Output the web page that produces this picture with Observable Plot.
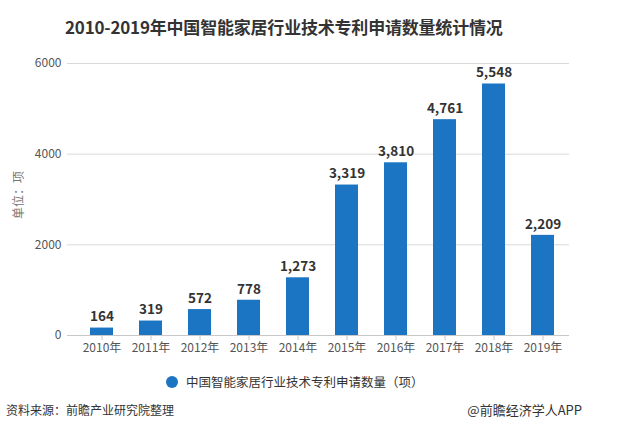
<!DOCTYPE html>
<html>
<head>
<meta charset="utf-8">
<script src="https://cdn.jsdelivr.net/npm/d3@7"></script>
<script src="https://cdn.jsdelivr.net/npm/@observablehq/plot@0.6"></script>
<style>
  html, body { margin: 0; padding: 0; background: #fff; }
  body { width: 631px; height: 428px; overflow: hidden; font-family: "Noto Sans CJK SC", "Noto Sans", sans-serif; }
  #wrap { position: relative; width: 631px; height: 428px; }
  #title { position: absolute; left: 65px; top: 14px; font-size: 17px; font-weight: bold; color: #333; letter-spacing: -0.2px; }
  #chart { position: absolute; left: 0; top: 40px; }
  #ylab { position: absolute; left: 17px; top: 195px; transform: translate(-50%, -50%) rotate(-90deg); font-size: 12px; color: #777; white-space: nowrap; }
  #legend { position: absolute; left: 166px; top: 372px; font-size: 12.5px; color: #333; display: flex; align-items: center; }
  #legend .dot { width: 12px; height: 12px; border-radius: 50%; background: #1b75c2; margin-right: 8px; }
  #src { position: absolute; left: 6px; top: 401px; font-size: 12px; color: #333; }
  #brand { position: absolute; right: 49px; top: 400px; font-size: 13px; color: #333; }
</style>
</head>
<body>
<div id="wrap">
  <div id="title">2010-2019年中国智能家居行业技术专利申请数量统计情况</div>
  <div id="chart"></div>
  <div id="ylab">单位：项</div>
  <div id="legend"><span class="dot"></span><span id="legendText"></span></div>
  <div id="src">资料来源：前瞻产业研究院整理</div>
  <div id="brand">@前瞻经济学人APP</div>
</div>
<script>
const years = ["2010年","2011年","2012年","2013年","2014年","2015年","2016年","2017年","2018年","2019年"];
const values = [164, 319, 572, 778, 1273, 3319, 3810, 4761, 5548, 2209];
const yTicks = [0, 2000, 4000, 6000];
const seriesName = "中国智能家居行业技术专利申请数量（项）";

document.getElementById("legendText").textContent = seriesName;

const data = years.map((y, i) => ({year: y, value: values[i]}));
const color = "#1b75c2";

const chart = Plot.plot({
  width: 631,
  height: 320,
  marginLeft: 67,
  marginRight: 62,
  marginTop: 23,
  marginBottom: 25,
  style: {fontFamily: "'Noto Sans CJK SC', 'Noto Sans', sans-serif", fontSize: "12px", color: "#555", background: "#fff"},
  x: {domain: years, range: [76, 569], paddingInner: 0.53, paddingOuter: 0.265, label: null},
  y: {domain: [0, 6000], label: null},
  marks: [
    Plot.gridY(yTicks, {stroke: "#d9d9d9", strokeOpacity: 1}),
    Plot.axisY(yTicks, {tickFormat: d => String(d), tickSize: 0, tickPadding: 6, fill: "#555", fontSize: 12, label: null}),
    Plot.barY(data, {x: "year", y: "value", fill: color}),
    Plot.ruleY([0], {stroke: "#c8c8c8"}),
    Plot.axisX({tickSize: 5, stroke: "#c8c8c8", tickPadding: 3, fill: "#555", fontSize: 12, label: null}),
    Plot.text(data, {x: "year", y: "value", text: d => d3.format(",")(d.value), dy: -11, fill: "#333", fontWeight: "bold", fontSize: 13.5})
  ]
});
document.getElementById("chart").appendChild(chart);
</script>
</body>
</html>
